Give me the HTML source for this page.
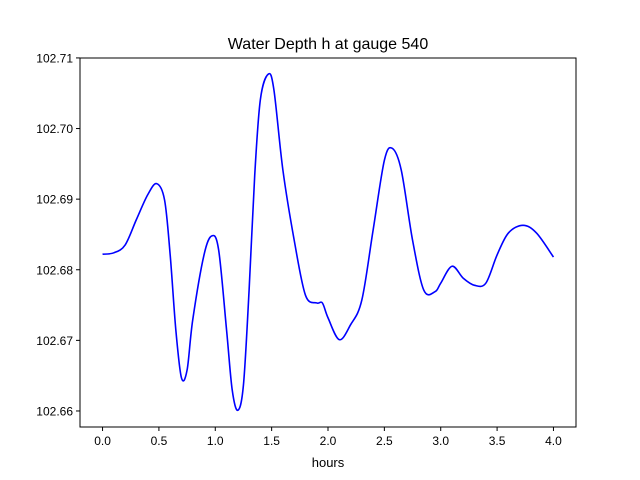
<!DOCTYPE html>
<html><head><meta charset="utf-8"><style>
body{margin:0;background:#fff;}
svg{display:block;font-family:"Liberation Sans","DejaVu Sans",sans-serif;}
</style></head><body>
<svg id="chart" width="640" height="480">
<rect width="640" height="480" fill="#fff"/>
<text x="328" y="49" font-size="16" text-anchor="middle">Water Depth h at gauge 540</text>
<g id="ticks"></g>
<path id="line" fill="none" stroke="#0000ff" stroke-width="1.6"/>
<rect x="80" y="58" width="496" height="369" fill="none" stroke="#000" stroke-width="1"/>
<text x="328" y="467" font-size="13" text-anchor="middle">hours</text>
</svg>
<script>
const hours=[0,0.1,0.2,0.3,0.4,0.48,0.55,0.6,0.65,0.7,0.75,0.8,0.9,0.97,1.03,1.1,1.15,1.2,1.25,1.3,1.35,1.4,1.47,1.52,1.6,1.7,1.8,1.9,1.95,2.0,2.1,2.2,2.3,2.4,2.5,2.57,2.65,2.75,2.85,2.95,3.0,3.1,3.2,3.3,3.4,3.5,3.6,3.73,3.85,4.0];
const depth=[102.6822,102.6824,102.6835,102.6871,102.6906,102.6922,102.6899,102.6821,102.6715,102.6647,102.6658,102.6729,102.6821,102.6848,102.6828,102.6715,102.6630,102.6601,102.6637,102.6771,102.6934,102.7041,102.7077,102.7055,102.6941,102.6842,102.6764,102.6753,102.6753,102.6732,102.6701,102.6722,102.6757,102.6856,102.6955,102.6972,102.6941,102.6842,102.6771,102.6769,102.6781,102.6805,102.6788,102.6778,102.6781,102.6821,102.6852,102.6863,102.6852,102.6818];
const xTicks=[0,0.5,1,1.5,2,2.5,3,3.5,4];
const yTicks=[102.66,102.67,102.68,102.69,102.70,102.71];
const X0=80,X1=576,Y0=427,Y1=58;
const xmin=-0.2,xmax=4.2,ymin=102.65773,ymax=102.70999;
const sx=v=>X0+(v-xmin)/(xmax-xmin)*(X1-X0);
const sy=v=>Y0-(v-ymin)/(ymax-ymin)*(Y0-Y1);
const NS="http://www.w3.org/2000/svg";
const g=document.getElementById('ticks');
function mk(t,a){const e=document.createElementNS(NS,t);for(const k in a)e.setAttribute(k,a[k]);g.appendChild(e);return e;}
xTicks.forEach(t=>{const x=sx(t);
 const l=mk('line',{x1:x,x2:x,y1:Y0,y2:Y0+4,stroke:'#000'});
 
 
 const tx=mk('text',{x:x,y:Y0+18,'font-size':12,'text-anchor':'middle'});tx.textContent=t.toFixed(1);
 
 
});
yTicks.forEach(t=>{const y=sy(t);
 const l=mk('line',{x1:X0-4,x2:X0,y1:y,y2:y,stroke:'#000'});
 
 
 const tx=mk('text',{x:X0-7,y:y+4.5,'font-size':12,'text-anchor':'end'});tx.textContent=t.toFixed(2);
 
 
});
const P=hours.map((h,i)=>[sx(h),sy(depth[i])]);
let d='M'+P[0][0]+','+P[0][1];
for(let i=0;i<P.length-1;i++){
 const p0=P[Math.max(0,i-1)],p1=P[i],p2=P[i+1],p3=P[Math.min(P.length-1,i+2)];
 const c1=[p1[0]+(p2[0]-p0[0])/6,p1[1]+(p2[1]-p0[1])/6];
 const c2=[p2[0]-(p3[0]-p1[0])/6,p2[1]-(p3[1]-p1[1])/6];
 d+=`C${c1[0]},${c1[1]} ${c2[0]},${c2[1]} ${p2[0]},${p2[1]}`;
}
document.getElementById('line').setAttribute('d',d);
</script>
</body></html>
